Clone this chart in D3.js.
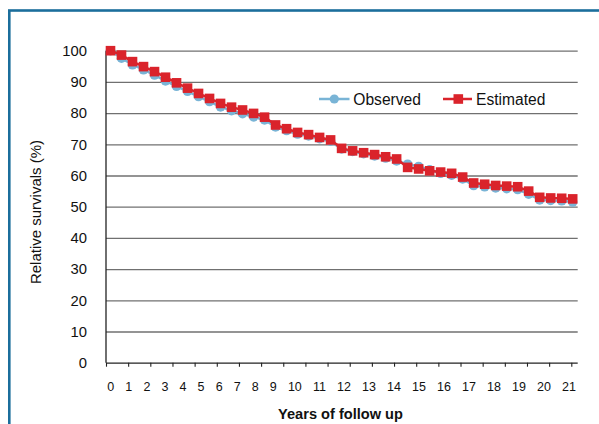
<!DOCTYPE html>
<html>
<head>
<meta charset="utf-8">
<script src="https://cdn.jsdelivr.net/npm/d3@7"></script>
<style>
  body { margin: 0; background: #fff; }
  text { font-family: "Liberation Sans", Arial, Helvetica, sans-serif; fill: #111; }
</style>
</head>
<body>
<div id="chart"></div>
<script>
// half-year follow up points (years)
let intervals = [0, 0.5, 1, 1.5, 2, 2.5, 3, 3.5, 4, 4.5, 5, 5.5, 6, 6.5, 7, 7.5, 8, 8.5, 9, 9.5, 10,
    10.5, 11, 11.5, 12, 12.5, 13, 13.5, 14, 14.5, 15, 15.5, 16, 16.5, 17, 17.5, 18, 18.5, 19, 19.5, 20, 20.5, 21];

let estimated = [100, 98.6, 96.5, 94.9, 93.3, 91.5, 89.7, 88.0, 86.3, 84.7, 83.1,
    81.9, 81.0, 79.9, 78.7, 76.2, 75.0, 73.8, 73.1, 72.2, 71.4,
    68.7, 67.9, 67.3, 66.7, 66.0, 65.3, 62.6, 62.1, 61.5, 61.1,
    60.7, 59.5, 57.6, 57.2, 56.8, 56.6, 56.4, 55.0, 53.0, 52.8, 52.7, 52.5];

let observed = [100, 97.6, 95.5, 93.9, 92.2, 90.3, 88.6, 87.0, 85.3, 83.7, 82.0,
    80.8, 79.8, 78.8, 77.8, 75.6, 74.4, 73.3, 72.7, 71.8, 71.0,
    68.5, 67.7, 67.0, 66.3, 65.6, 64.7, 63.6, 62.9, 61.8, 60.7,
    60.1, 58.9, 56.8, 56.4, 56.0, 55.8, 55.5, 54.0, 52.2, 52.0, 51.9, 51.5];

let yTicks = [0, 10, 20, 30, 40, 50, 60, 70, 80, 90, 100];
let yearTicks = [0, 1, 2, 3, 4, 5, 6, 7, 8, 9, 10, 11, 12, 13, 14, 15, 16, 17, 18, 19, 20, 21];

let W = 599, H = 424;
let plotLeft = 106, plotRight = 577.7, plotTop = 50.7, plotBottom = 362.7;

let blue = "#79b4d6", red = "#da232b";

let svg = d3.select("#chart").append("svg")
    .attr("width", W)
    .attr("height", H);

// frame
svg.append("rect")
    .attr("x", 9.3).attr("y", 10.5)
    .attr("width", 640).attr("height", 450)
    .attr("fill", "none")
    .attr("stroke", "#1b6e9c")
    .attr("stroke-width", 2.6);

let y = d3.scaleLinear().domain([0, 100]).range([plotBottom, plotTop]);
let xTick = d3.scaleLinear().domain([0, 21]).range([plotLeft, 571.3]);
let xPt = d3.scalePoint().domain(intervals).range([110.5, 572.7]);

// y gridlines + labels
let yAxis = svg.append("g")
    .attr("transform", `translate(${plotLeft},0)`)
    .call(d3.axisLeft(y).tickValues(yTicks).tickSize(-(plotRight - plotLeft)).tickPadding(19));
yAxis.select(".domain").remove();
yAxis.selectAll(".tick line")
    .attr("stroke", d => d === 0 ? "#222" : "#707070")
    .attr("stroke-width", 1.3);
yAxis.selectAll(".tick text")
    .style("font-size", "14.8px")
    .attr("fill", "#111");

// y axis line
svg.append("line")
    .attr("x1", plotLeft).attr("x2", plotLeft)
    .attr("y1", plotTop).attr("y2", plotBottom)
    .attr("stroke", "#222").attr("stroke-width", 1.3);

// x tick marks
let xAxis = svg.append("g")
    .attr("transform", `translate(0,${plotBottom})`)
    .call(d3.axisBottom(xTick).tickValues(yearTicks).tickSize(4).tickFormat(""));
xAxis.select(".domain").remove();
xAxis.selectAll(".tick line").attr("stroke", "#222").attr("stroke-width", 1.1);

// x tick labels (laid out as a spaced run of text like the original)
let xLab = svg.append("text")
    .attr("x", 107.3)
    .attr("y", 390.5)
    .style("font-size", "12.5px")
    .text(yearTicks.join(" "));
let baseLen = xLab.node().getComputedTextLength();
xLab.style("word-spacing", ((468.7 - baseLen) / (yearTicks.length - 1)) + "px");

// axis titles
svg.append("text")
    .attr("text-anchor", "middle")
    .attr("transform", "translate(41,212) rotate(-90)")
    .style("font-size", "15px")
    .text("Relative survivals (%)");

svg.append("text")
    .attr("text-anchor", "middle")
    .attr("x", 340.5)
    .attr("y", 419)
    .style("font-size", "14.6px")
    .style("font-weight", "bold")
    .text("Years of follow up");

// series
let obsData = intervals.map((t, i) => ({t: t, v: observed[i]}));
let estData = intervals.map((t, i) => ({t: t, v: estimated[i]}));

let line = d3.line().x(d => xPt(d.t)).y(d => y(d.v));

svg.append("path")
    .datum(obsData)
    .attr("fill", "none")
    .attr("stroke", blue)
    .attr("stroke-width", 2.5)
    .attr("d", line);

svg.selectAll(".obs")
    .data(obsData)
    .enter()
    .append("circle")
    .attr("class", "obs")
    .attr("cx", d => xPt(d.t))
    .attr("cy", d => y(d.v))
    .attr("r", 4.8)
    .attr("fill", blue);

svg.append("path")
    .datum(estData)
    .attr("fill", "none")
    .attr("stroke", red)
    .attr("stroke-width", 2.5)
    .attr("d", line);

let sq = 9.6;
svg.selectAll(".est")
    .data(estData)
    .enter()
    .append("rect")
    .attr("class", "est")
    .attr("x", d => xPt(d.t) - sq / 2)
    .attr("y", d => y(d.v) - sq / 2)
    .attr("width", sq)
    .attr("height", sq)
    .attr("fill", red);

// legend
let legend = svg.append("g").attr("transform", "translate(0,99)");

legend.append("line")
    .attr("x1", 319).attr("x2", 349.5)
    .attr("stroke", blue).attr("stroke-width", 2.5);
legend.append("circle")
    .attr("cx", 334.3).attr("r", 4.6)
    .attr("fill", blue);
legend.append("text")
    .attr("x", 353.3).attr("y", 5.6)
    .style("font-size", "15.6px")
    .text("Observed");

legend.append("line")
    .attr("x1", 443).attr("x2", 472)
    .attr("stroke", red).attr("stroke-width", 2.5);
legend.append("rect")
    .attr("x", 458.3 - sq / 2).attr("y", -sq / 2)
    .attr("width", sq).attr("height", sq)
    .attr("fill", red);
legend.append("text")
    .attr("x", 476).attr("y", 5.6)
    .style("font-size", "15.6px")
    .text("Estimated");
</script>
</body>
</html>
